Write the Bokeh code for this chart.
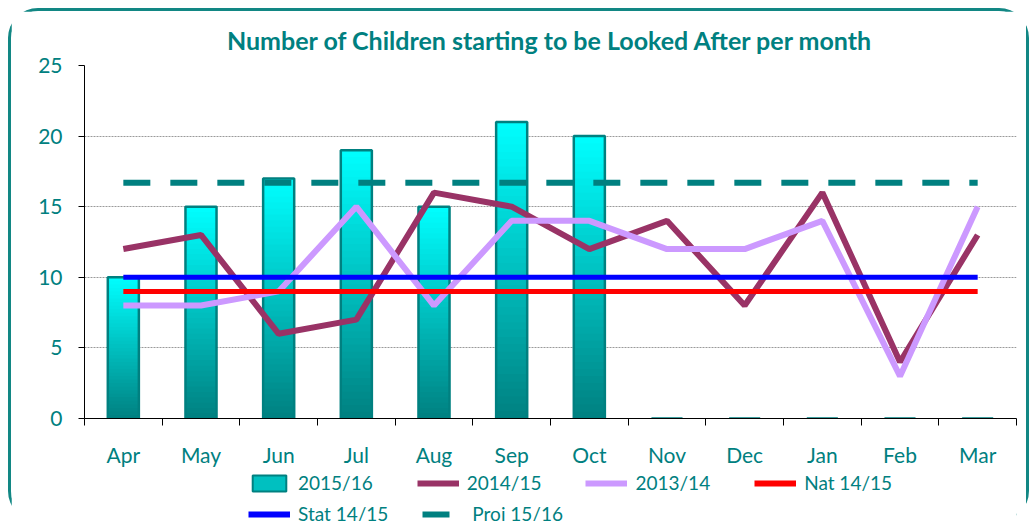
import numpy as np
from bokeh.plotting import figure
from bokeh.layouts import column
from bokeh.models import Range1d, FixedTicker, Legend, LegendItem, ColumnDataSource
from bokeh.embed import file_html
from bokeh.resources import INLINE

# ---- data ----
months = ["Apr", "May", "Jun", "Jul", "Aug", "Sep", "Oct", "Nov", "Dec", "Jan", "Feb", "Mar"]
y2015_16 = [10, 15, 17, 19, 15, 21, 20, 0, 0, 0, 0, 0]
y2014_15 = [12, 13, 6, 7, 16, 15, 12, 14, 8, 16, 4, 13]
y2013_14 = [8, 8, 9, 15, 8, 14, 14, 12, 12, 14, 3, 15]
nat_14_15 = [9, 9, 9, 9, 9, 9, 9, 9, 9, 9, 9, 9]
stat_14_15 = [10, 10, 10, 10, 10, 10, 10, 10, 10, 10, 10, 10]
proj_15_16 = [16.7, 16.7, 16.7, 16.7, 16.7, 16.7, 16.7, 16.7, 16.7, 16.7, 16.7, 16.7]
y_ticks = [0, 5, 10, 15, 20, 25]

TEAL = "#008080"
FONT = "Lato"
C14 = "#993366"
C13 = "#cc99ff"
CNAT = "#ff0000"
CSTAT = "#0000ff"

x = np.arange(len(months)) + 0.5

p = figure(width=1015, height=460, output_backend="svg", toolbar_location=None,
           x_range=Range1d(0, len(months)), y_range=Range1d(0, 25),
           min_border_left=73, min_border_right=10, min_border_top=54, min_border_bottom=53,
           title="Number of Children starting to be Looked After per month")

p.title.align = "center"
p.title.text_font = FONT
p.title.text_font_style = "bold"
p.title.text_font_size = "25px"
p.title.text_color = TEAL
p.title.standoff = 22

p.outline_line_color = None
p.background_fill_color = "white"
p.border_fill_color = "white"

# axes
p.yaxis.ticker = FixedTicker(ticks=y_ticks)
p.yaxis.major_label_text_font = FONT
p.yaxis.major_label_text_font_size = "21px"
p.yaxis.major_label_text_color = TEAL
p.yaxis.major_tick_out = 6
p.yaxis.major_tick_in = 0
p.yaxis.minor_tick_line_color = None
p.yaxis.axis_line_color = "black"
p.yaxis.major_tick_line_color = "black"
p.yaxis.major_label_standoff = 16

p.xaxis.ticker = FixedTicker(ticks=list(x), minor_ticks=list(range(len(months) + 1)))
p.xaxis.major_label_overrides = {float(xi): m for xi, m in zip(x, months)}
p.xaxis.major_label_text_font = FONT
p.xaxis.major_label_text_font_size = "21px"
p.xaxis.major_label_text_color = TEAL
p.xaxis.major_tick_out = 0
p.xaxis.major_tick_in = 0
p.xaxis.major_tick_line_color = None
p.xaxis.minor_tick_out = 7
p.xaxis.minor_tick_in = 0
p.xaxis.minor_tick_line_color = "black"
p.xaxis.axis_line_color = "black"
p.xaxis.major_label_standoff = 16

p.xgrid.visible = False
p.ygrid.grid_line_color = "#9a9a9a"
p.ygrid.grid_line_dash = "2 1"
p.ygrid.grid_line_width = 1

# gradient bars built from the data values (overlapping slices, no seams)
N = 40
top_rgb = np.array([0, 255, 255])
bot_rgb = np.array([0, 128, 128])
lefts, rights, bottoms, tops, colors = [], [], [], [], []
bw = 0.4
for xi, v in zip(x, y2015_16):
    for k in range(N):
        t = (k + 0.5) / N
        c = bot_rgb + (top_rgb - bot_rgb) * t
        lefts.append(xi - bw / 2)
        rights.append(xi + bw / 2)
        bottoms.append(v * k / N)
        tops.append(v)
        colors.append("#%02x%02x%02x" % tuple(int(round(cc)) for cc in c))
grad = ColumnDataSource(dict(left=lefts, right=rights, bottom=bottoms, top=tops, color=colors))
p.quad(left="left", right="right", bottom="bottom", top="top", fill_color="color",
       line_color=None, source=grad)
p.vbar(x=x, top=y2015_16, width=bw, fill_color=None, line_color=TEAL, line_width=2.5)

p.line(x, y2014_15, line_color=C14, line_width=6)
p.line(x, y2013_14, line_color=C13, line_width=6)
p.line(x, nat_14_15, line_color=CNAT, line_width=5)
p.line(x, stat_14_15, line_color=CSTAT, line_width=5)
p.line(x, proj_15_16, line_color=TEAL, line_width=6, line_dash="27 20")

# ---- legend strip (separate figure; proxy renderers are hidden, legend only) ----
p2 = figure(width=1015, height=50, output_backend="svg", toolbar_location=None,
            x_range=Range1d(0, len(months)), y_range=Range1d(0, 25),
            x_axis_type=None, y_axis_type=None, min_border=0)
p2.outline_line_color = None
p2.xgrid.visible = False
p2.ygrid.visible = False
p2.border_fill_color = "white"

lg_bar = p2.vbar(x=x, top=y2015_16, width=bw, fill_color="#00c0c0", line_color=TEAL, line_width=2)
lg14 = p2.line(x, y2014_15, line_color=C14, line_width=6)
lg13 = p2.line(x, y2013_14, line_color=C13, line_width=6)
lgnat = p2.line(x, nat_14_15, line_color=CNAT, line_width=6)
lgstat = p2.line(x, stat_14_15, line_color=CSTAT, line_width=6)
lgproj = p2.line(x, proj_15_16, line_color=TEAL, line_width=6, line_dash="27 20")
for r in (lg_bar, lg14, lg13, lgnat, lgstat, lgproj):
    r.visible = False


def make_legend(items, loc, spacing):
    return Legend(items=items, orientation="horizontal", location=loc,
                  glyph_width=42, glyph_height=20, label_standoff=8, spacing=spacing,
                  padding=0, margin=0, border_line_color=None, background_fill_alpha=0,
                  click_policy="none",
                  label_text_font=FONT, label_text_font_size="19px", label_text_color=TEAL)


leg1 = make_legend([LegendItem(label="2015/16", renderers=[lg_bar]),
                    LegendItem(label="2014/15", renderers=[lg14]),
                    LegendItem(label="2013/14", renderers=[lg13]),
                    LegendItem(label="Nat 14/15", renderers=[lgnat])], (164, 27), 44)
leg2 = make_legend([LegendItem(label="Stat 14/15", renderers=[lgstat]),
                    LegendItem(label="Proj 15/16", renderers=[lgproj])], (164, -4), 34)
p2.add_layout(leg1, "center")
p2.add_layout(leg2, "center")

layout = column(p, p2, spacing=0)
layout.styles = {"border": "3px solid #128784", "border-bottom": "none",
                 "border-radius": "30px", "margin-left": "8px", "margin-top": "8px",
                 "background-color": "white"}

open("out.html", "w").write(file_html(layout, INLINE))
